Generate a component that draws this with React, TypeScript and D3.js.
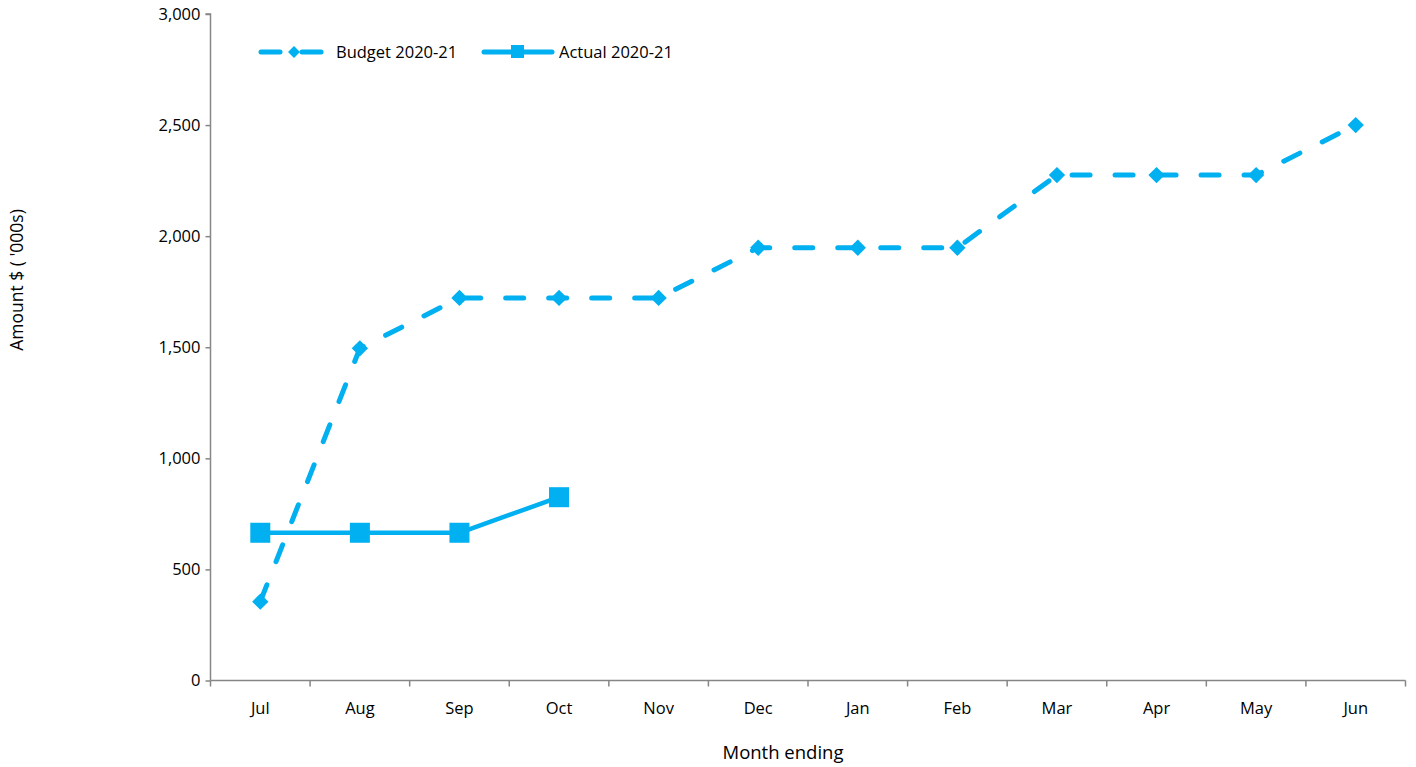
import React, { useEffect, useRef } from "react";
import * as d3 from "d3";

const months = ["Jul", "Aug", "Sep", "Oct", "Nov", "Dec", "Jan", "Feb", "Mar", "Apr", "May", "Jun"];
const budget = [355, 1495, 1722, 1722, 1722, 1948, 1948, 1948, 2275, 2275, 2275, 2500];
const actualMonths = ["Jul", "Aug", "Sep", "Oct"];
const actual = [665, 665, 665, 825];
const yTicks = [0, 500, 1000, 1500, 2000, 2500, 3000];

const COLOR = "#00B0F0";
const AXIS = "#868686";
const FONT = "'Open Sans', sans-serif";

const App: React.FC = () => {
  const svgRef = useRef<SVGSVGElement>(null);

  useEffect(() => {
    if (!svgRef.current) return;
    const svg = d3.select(svgRef.current);
    svg.selectAll("*").remove();

    const left = 210.5;
    const right = 1405.5;
    const top = 14;
    const bottom = 680.5;

    const x = d3.scaleBand<string>().domain(months).range([left, right]);
    const y = d3.scaleLinear().domain([0, 3000]).range([bottom, top]);
    const cx = (m: string) => (x(m) as number) + x.bandwidth() / 2;

    // y axis
    const yAxis = svg.append("g").attr("transform", `translate(${left},0)`).call(
      d3
        .axisLeft(y)
        .tickValues(yTicks)
        .tickSize(5)
        .tickPadding(5)
        .tickFormat((d) => d3.format(",")(d as number))
    );
    yAxis.select(".domain").attr("stroke", AXIS).attr("stroke-width", 1.5).attr("d", `M-5,${top}H0V${bottom}`);
    yAxis.selectAll(".tick line").attr("stroke", AXIS).attr("stroke-width", 1.5);
    yAxis.selectAll(".tick text").attr("font-family", FONT).attr("font-size", 16.5).attr("fill", "#000");

    // x axis
    const xAxis = svg.append("g").attr("transform", `translate(0,${bottom})`).call(d3.axisBottom(x).tickSize(0).tickPadding(22));
    xAxis.select(".domain").attr("stroke", AXIS).attr("stroke-width", 1.5).attr("d", `M${left},0H${right}`);
    xAxis.selectAll(".tick text").attr("font-family", FONT).attr("font-size", 16.5).attr("fill", "#000");
    const edges = months.map((m) => x(m) as number).concat([right]);
    xAxis
      .selectAll("line.edge")
      .data(edges)
      .enter()
      .append("line")
      .attr("class", "edge")
      .attr("x1", (d) => d)
      .attr("x2", (d) => d)
      .attr("y1", 0)
      .attr("y2", 6)
      .attr("stroke", AXIS)
      .attr("stroke-width", 1.5);

    // axis titles
    svg
      .append("text")
      .attr("x", 783)
      .attr("y", 759)
      .attr("text-anchor", "middle")
      .attr("font-family", FONT)
      .attr("font-size", 18.5)
      .text("Month ending");
    svg
      .append("text")
      .attr("transform", `translate(23,280) rotate(-90)`)
      .attr("text-anchor", "middle")
      .attr("font-family", FONT)
      .attr("font-size", 17.5)
      .text("Amount $ ( '000s)");

    const line = d3
      .line<[string, number]>()
      .x((d) => cx(d[0]))
      .y((d) => y(d[1]));

    const budgetPts: [string, number][] = months.map((m, i) => [m, budget[i]]);
    const actualPts: [string, number][] = actualMonths.map((m, i) => [m, actual[i]]);

    svg
      .append("path")
      .datum(budgetPts)
      .attr("fill", "none")
      .attr("stroke", COLOR)
      .attr("stroke-width", 5)
      .attr("stroke-dasharray", "18,25")
      .attr("stroke-linecap", "round")
      .attr("d", line);

    const diamond = d3.symbol().type(d3.symbolDiamond2).size(170);
    svg
      .selectAll("path.bm")
      .data(budgetPts)
      .enter()
      .append("path")
      .attr("class", "bm")
      .attr("transform", (d) => `translate(${cx(d[0])},${y(d[1])})`)
      .attr("d", diamond)
      .attr("fill", COLOR);

    svg
      .append("path")
      .datum(actualPts)
      .attr("fill", "none")
      .attr("stroke", COLOR)
      .attr("stroke-width", 4.5)
      .attr("stroke-linejoin", "round")
      .attr("d", line);

    svg
      .selectAll("rect.am")
      .data(actualPts)
      .enter()
      .append("rect")
      .attr("class", "am")
      .attr("x", (d) => cx(d[0]) - 10)
      .attr("y", (d) => y(d[1]) - 10)
      .attr("width", 20)
      .attr("height", 20)
      .attr("fill", COLOR);

    // legend
    const lg = svg.append("g").attr("transform", "translate(0,52)");
    lg.append("line").attr("x1", 261).attr("x2", 280).attr("y1", 0).attr("y2", 0)
      .attr("stroke", COLOR).attr("stroke-width", 5).attr("stroke-linecap", "round");
    lg.append("line").attr("x1", 302).attr("x2", 321).attr("y1", 0).attr("y2", 0)
      .attr("stroke", COLOR).attr("stroke-width", 5).attr("stroke-linecap", "round");
    lg.append("path").attr("transform", "translate(294,0)").attr("d", d3.symbol().type(d3.symbolDiamond2).size(90)).attr("fill", COLOR);
    lg.append("text").attr("x", 336).attr("y", 6).attr("font-family", FONT).attr("font-size", 16.5).text("Budget 2020-21");

    lg.append("line").attr("x1", 484).attr("x2", 552).attr("y1", 0).attr("y2", 0)
      .attr("stroke", COLOR).attr("stroke-width", 5).attr("stroke-linecap", "round");
    lg.append("rect").attr("x", 511).attr("y", -7).attr("width", 13).attr("height", 13).attr("fill", COLOR);
    lg.append("text").attr("x", 559).attr("y", 6).attr("font-family", FONT).attr("font-size", 16.5).text("Actual 2020-21");
  }, []);

  return (
    <svg
      ref={svgRef}
      width={1416}
      height={767}
      style={{ position: "absolute", left: 0, top: 0, background: "#fff" }}
    />
  );
};

export default App;
